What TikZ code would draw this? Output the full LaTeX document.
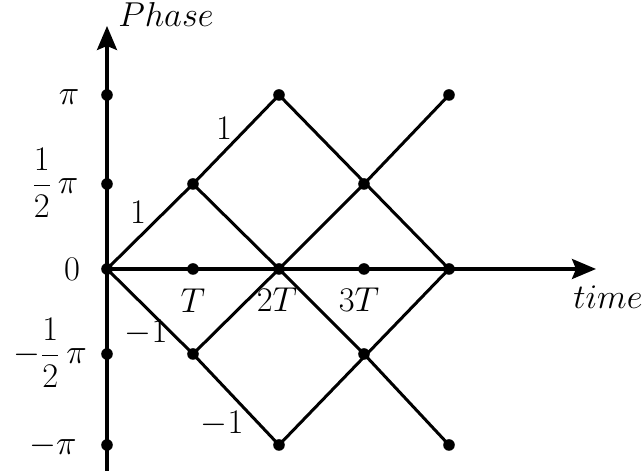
\documentclass[tikz,border=0pt]{standalone}
\usepackage{amsmath}
\usetikzlibrary{arrows.meta}
\begin{document}
\begin{tikzpicture}[x=0.5pt,y=-0.5pt,
  font=\fontsize{16}{19}\selectfont,
  dot/.style={circle,fill=black,inner sep=0pt,minimum size=5.8pt},
  ln/.style={line width=1.5pt},
  ax/.style={line width=1.6pt,-{Stealth[length=12pt,width=10pt,inset=2pt]}},
  lab/.style={inner sep=1pt}]
\useasboundingbox (0,0) rectangle (644,474);
% grid points
\node[dot] (o) at (107,269) {};
\node[dot] (t1) at (193,269) {};
\node[dot] (t2) at (279,269) {};
\node[dot] (t3) at (364,269) {};
\node[dot] (t4) at (449,269) {};
\node[dot] (yp) at (107,95) {};
\node[dot] (yh) at (107,184) {};
\node[dot] (ymh) at (107,354) {};
\node[dot] (ymp) at (107,445) {};
\node[dot] (a1) at (193,184) {};
\node[dot] (b1) at (193,354) {};
\node[dot] (a2) at (279,95) {};
\node[dot] (b2) at (279,445) {};
\node[dot] (a3) at (364,184) {};
\node[dot] (b3) at (364,354) {};
\node[dot] (a4) at (449,95) {};
\node[dot] (b4) at (449,445) {};
% axes
\coordinate (ybot) at (107,471);
\coordinate (ytop) at (107,26);
\coordinate (xend) at (596,269);
\draw[ax] (ybot) -- (ytop);
\draw[ax] (o.center) -- (xend);
% lines
\draw[ln] (o.center) -- (a1.center) -- (a2.center) -- (t4.center);
\draw[ln] (a1.center) -- (t2.center) -- (b3.center) -- (b4.center);
\draw[ln] (o.center) -- (b1.center) -- (b2.center) -- (t4.center);
\draw[ln] (b1.center) -- (t2.center) -- (a3.center) -- (a4.center);
% axis labels
\node[lab] (ph) at (166,15) {$Phase$};
\node[lab] (tm) at (608,297) {$time$};
\node[lab] (lp) at (69,97) {$\pi$};
\node[lab] (lh) at (55,183) {$\dfrac{1}{2}\,\pi$};
\node[lab] (l0) at (72,269) {$0$};
\node[lab] (lmh) at (50,353) {$-\dfrac{1}{2}\,\pi$};
\node[lab] (lmp) at (53,446) {$-\pi$};
\node[lab] (lt1) at (193,301) {$T$};
\node[lab] (lt2) at (277,300) {$2T$};
\node[lab] (lt3) at (359,300) {$3T$};
% edge labels
\node[lab] (e1) at (138,212) {$1$};
\node[lab] (e2) at (224,128) {$1$};
\node[lab] (e3) at (146,333) {$-1$};
\node[lab] (e4) at (222,424) {$-1$};
\end{tikzpicture}
\end{document}
